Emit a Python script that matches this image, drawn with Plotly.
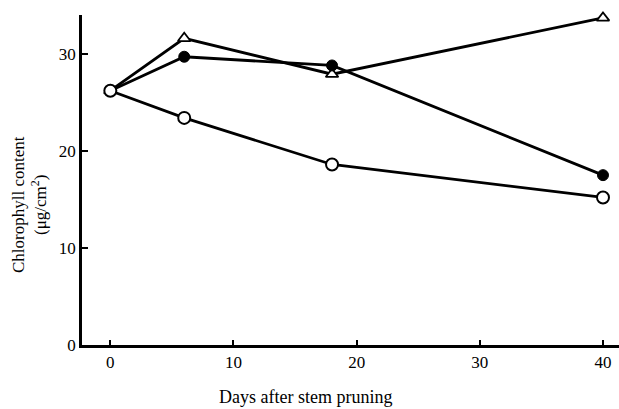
import plotly.graph_objects as go

days = [0, 6, 18, 40]
open_circle = [26.2, 23.4, 18.6, 15.2]
filled_circle = [26.2, 29.7, 28.8, 17.5]
open_triangle = [26.2, 31.6, 27.9, 33.7]
x_ticks = [0, 10, 20, 30, 40]
y_ticks = [0, 10, 20, 30]

fig = go.Figure()
fig.add_trace(go.Scatter(x=days, y=open_triangle, mode="lines+markers", cliponaxis=False,
                         line=dict(color="black", width=2.8),
                         marker=dict(symbol="triangle-up", size=11, color="white",
                                     line=dict(color="black", width=1.8))))
fig.add_trace(go.Scatter(x=days, y=filled_circle, mode="lines+markers", cliponaxis=False,
                         line=dict(color="black", width=2.8),
                         marker=dict(symbol="circle", size=11, color="black",
                                     line=dict(color="black", width=1))))
fig.add_trace(go.Scatter(x=days, y=open_circle, mode="lines+markers", cliponaxis=False,
                         line=dict(color="black", width=2.8),
                         marker=dict(symbol="circle", size=12, color="white",
                                     line=dict(color="black", width=2))))

font = dict(family="Liberation Serif", size=17, color="black")
fig.update_layout(
    width=619, height=409, showlegend=False,
    plot_bgcolor="white", paper_bgcolor="white",
    margin=dict(l=82, r=0, t=15, b=64, autoexpand=False),
    font=font,
    xaxis=dict(range=[-2.3, 41.3], tickvals=x_ticks, showgrid=False, zeroline=False,
               showline=True, linecolor="black", linewidth=2.8, automargin=False,
               ticks="inside", ticklen=5, tickwidth=2, tickcolor="black",
               tickfont=font),
    yaxis=dict(range=[0, 34.0], tickvals=y_ticks, showgrid=False, zeroline=False,
               showline=True, linecolor="black", linewidth=2.8, automargin=False,
               ticks="inside", ticklen=6, tickwidth=2, tickcolor="black",
               tickfont=font),
    annotations=[
        dict(text="Days after stem pruning", xref="paper", yref="paper",
             x=(305 - 82) / 537, y=-52 / 330, showarrow=False,
             font=dict(family="Liberation Serif", size=18, color="black"),
             xanchor="center", yanchor="middle"),
        dict(text="Chlorophyll content<br>(μg/cm<sup>2</sup>)", xref="paper", yref="paper",
             x=(30 - 82) / 537, y=(345 - 205) / 330, showarrow=False, textangle=-90,
             font=dict(family="Liberation Serif", size=17, color="black"),
             xanchor="center", yanchor="middle"),
    ],
)
fig.write_html("out.html", config={"displayModeBar": False},
               post_script="document.body.style.margin='0';")
